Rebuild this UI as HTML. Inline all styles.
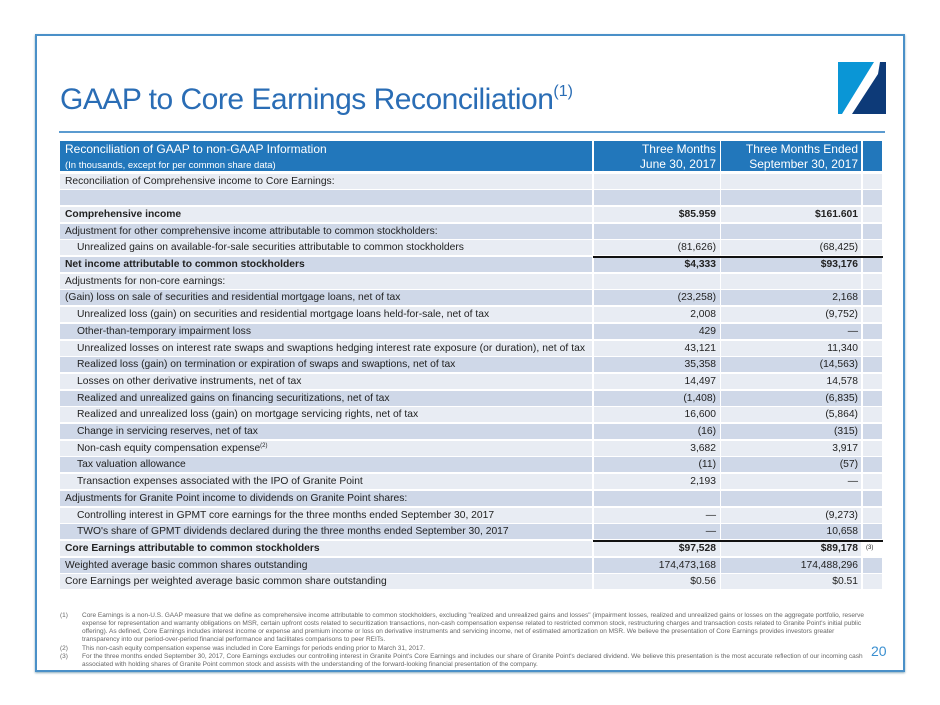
<!DOCTYPE html>
<html><head><meta charset="utf-8"><style>
body{margin:0;width:940px;height:705px;background:#fff;position:relative;font-family:"Liberation Sans",sans-serif;overflow:hidden}
#frame{position:absolute;left:35px;top:34px;width:866px;height:634px;border:2px solid #4a90c8;box-shadow:0 1px 2px #8ab}
#title{position:absolute;left:60px;top:83px;font-size:30px;color:#2a6db5;letter-spacing:-0.5px}
#title sup{font-size:16px;vertical-align:13px;letter-spacing:0}
#rule{position:absolute;left:59px;top:131px;width:826px;height:2px;background:#5b9bd0}
#logo{position:absolute;left:838px;top:62px}
.row{position:absolute;left:60px;height:15px;font-size:10.3px;line-height:15px;color:#222}
.c{position:absolute;top:0;height:100%;box-sizing:border-box}
.l{left:0;width:532px;padding-left:5px}
.a{left:534px;width:126px;text-align:right;padding-right:4px}
.b{left:661px;width:140px;text-align:right;padding-right:3px}
.d{left:803px;width:19px}
.L .c{background:#e8ecf3}.D .c{background:#cfd8e8}
.B{font-weight:bold}
.i .l{padding-left:17px}
.line{position:absolute;left:593px;width:290px;height:2px;background:#111}
#hdr .c{background:#2277bb;color:#fff;font-size:12px;line-height:15px}
.fn{position:absolute;left:60px;font-size:6.5px;color:#666;line-height:8px;width:810px}
.fn span{position:absolute;left:0}
.fn div{margin-left:22px}
sup.s{font-size:6px;line-height:0;vertical-align:4px}
</style></head><body>
<div id="frame"></div>
<div id="title">GAAP to Core Earnings Reconciliation<sup>(1)</sup></div>
<svg id="logo" width="48" height="52"><polygon points="0,0 36,0 4,52 0,52" fill="#0a96d6"/><polygon points="48,0 48,52 14,52 40,12 42,0" fill="#0d3a78"/></svg>
<div id="rule"></div>

<div class="row" id="hdr" style="top:141px;height:30px">
<div class="c l" style="padding-top:1px">Reconciliation of GAAP to non-GAAP Information<br><span style="font-size:9.5px">(In thousands, except for per common share data)</span></div>
<div class="c a" style="padding-top:1px">Three Months<br>June 30, 2017</div>
<div class="c b" style="padding-top:1px">Three Months Ended<br>September 30, 2017</div>
<div class="c d"></div></div>

<div id="rows">
<div class="row L" style="top:173.5px"><div class="c l">Reconciliation of Comprehensive income to Core Earnings:</div><div class="c a"></div><div class="c b"></div><div class="c d"></div></div>
<div class="row D" style="top:190.2px"><div class="c l"></div><div class="c a"></div><div class="c b"></div><div class="c d"></div></div>
<div class="row L B" style="top:206.9px"><div class="c l">Comprehensive income</div><div class="c a">$85.959</div><div class="c b">$161.601</div><div class="c d"></div></div>
<div class="row D" style="top:223.6px"><div class="c l">Adjustment for other comprehensive income attributable to common stockholders:</div><div class="c a"></div><div class="c b"></div><div class="c d"></div></div>
<div class="row L i" style="top:240.3px"><div class="c l">Unrealized gains on available-for-sale securities attributable to common stockholders</div><div class="c a">(81,626)</div><div class="c b">(68,425)</div><div class="c d"></div></div>
<div class="row D B" style="top:257px"><div class="c l">Net income attributable to common stockholders</div><div class="c a">$4,333</div><div class="c b">$93,176</div><div class="c d"></div></div>
<div class="row L" style="top:273.7px"><div class="c l">Adjustments for non-core earnings:</div><div class="c a"></div><div class="c b"></div><div class="c d"></div></div>
<div class="row D" style="top:290.4px"><div class="c l">(Gain) loss on sale of securities and residential mortgage loans, net of tax</div><div class="c a">(23,258)</div><div class="c b">2,168</div><div class="c d"></div></div>
<div class="row L i" style="top:307.1px"><div class="c l">Unrealized loss (gain) on securities and residential mortgage loans held-for-sale, net of tax</div><div class="c a">2,008</div><div class="c b">(9,752)</div><div class="c d"></div></div>
<div class="row D i" style="top:323.8px"><div class="c l">Other-than-temporary impairment loss</div><div class="c a">429</div><div class="c b">—</div><div class="c d"></div></div>
<div class="row L i" style="top:340.5px"><div class="c l" style="letter-spacing:0.05px">Unrealized losses on interest rate swaps and swaptions hedging interest rate exposure (or duration), net of tax</div><div class="c a">43,121</div><div class="c b">11,340</div><div class="c d"></div></div>
<div class="row D i" style="top:357.2px"><div class="c l">Realized loss (gain) on termination or expiration of swaps and swaptions, net of tax</div><div class="c a">35,358</div><div class="c b">(14,563)</div><div class="c d"></div></div>
<div class="row L i" style="top:373.9px"><div class="c l">Losses on other derivative instruments, net of tax</div><div class="c a">14,497</div><div class="c b">14,578</div><div class="c d"></div></div>
<div class="row D i" style="top:390.6px"><div class="c l">Realized and unrealized gains on financing securitizations, net of tax</div><div class="c a">(1,408)</div><div class="c b">(6,835)</div><div class="c d"></div></div>
<div class="row L i" style="top:407.3px"><div class="c l">Realized and unrealized loss (gain) on mortgage servicing rights, net of tax</div><div class="c a">16,600</div><div class="c b">(5,864)</div><div class="c d"></div></div>
<div class="row D i" style="top:424px"><div class="c l">Change in servicing reserves, net of tax</div><div class="c a">(16)</div><div class="c b">(315)</div><div class="c d"></div></div>
<div class="row L i" style="top:440.7px"><div class="c l">Non-cash equity compensation expense<sup class="s">(2)</sup></div><div class="c a">3,682</div><div class="c b">3,917</div><div class="c d"></div></div>
<div class="row D i" style="top:457.4px"><div class="c l">Tax valuation allowance</div><div class="c a">(11)</div><div class="c b">(57)</div><div class="c d"></div></div>
<div class="row L i" style="top:474.1px"><div class="c l">Transaction expenses associated with the IPO of Granite Point</div><div class="c a">2,193</div><div class="c b">—</div><div class="c d"></div></div>
<div class="row D" style="top:490.8px"><div class="c l">Adjustments for Granite Point income to dividends on Granite Point shares:</div><div class="c a"></div><div class="c b"></div><div class="c d"></div></div>
<div class="row L i" style="top:507.5px"><div class="c l">Controlling interest in GPMT core earnings for the three months ended September 30, 2017</div><div class="c a">—</div><div class="c b">(9,273)</div><div class="c d"></div></div>
<div class="row D i" style="top:524.2px"><div class="c l">TWO's share of GPMT dividends declared during the three months ended September 30, 2017</div><div class="c a">—</div><div class="c b">10,658</div><div class="c d"></div></div>
<div class="row L B" style="top:540.9px"><div class="c l">Core Earnings attributable to common stockholders</div><div class="c a">$97,528</div><div class="c b">$89,178</div><div class="c d" style="background:#fff;font-size:6px;font-weight:normal;padding-left:3px">(3)</div></div>
<div class="row D" style="top:557.6px"><div class="c l">Weighted average basic common shares outstanding</div><div class="c a">174,473,168</div><div class="c b">174,488,296</div><div class="c d"></div></div>
<div class="row L" style="top:574.3px"><div class="c l">Core Earnings per weighted average basic common share outstanding</div><div class="c a">$0.56</div><div class="c b">$0.51</div><div class="c d"></div></div>
</div>
<div class="line" style="top:255.5px"></div>
<div class="line" style="top:539.5px"></div>

<div class="fn" style="top:612px"><span>(1)</span><div>Core Earnings is a non-U.S. GAAP measure that we define as comprehensive income attributable to common stockholders, excluding "realized and unrealized gains and losses" (impairment losses, realized and unrealized gains or losses on the aggregate portfolio, reserve expense for representation and warranty obligations on MSR, certain upfront costs related to securitization transactions, non-cash compensation expense related to restricted common stock, restructuring charges and transaction costs related to Granite Point's initial public offering). As defined, Core Earnings includes interest income or expense and premium income or loss on derivative instruments and servicing income, net of estimated amortization on MSR. We believe the presentation of Core Earnings provides investors greater transparency into our period-over-period financial performance and facilitates comparisons to peer REITs.</div></div>
<div class="fn" style="top:645px"><span>(2)</span><div>This non-cash equity compensation expense was included in Core Earnings for periods ending prior to March 31, 2017.</div></div>
<div class="fn" style="top:653px"><span>(3)</span><div>For the three months ended September 30, 2017, Core Earnings excludes our controlling interest in Granite Point's Core Earnings and includes our share of Granite Point's declared dividend. We believe this presentation is the most accurate reflection of our incoming cash associated with holding shares of Granite Point common stock and assists with the understanding of the forward-looking financial presentation of the company.</div></div>
<div style="position:absolute;left:871px;top:643px;font-size:14px;color:#3a8fd0">20</div>
</body></html>
